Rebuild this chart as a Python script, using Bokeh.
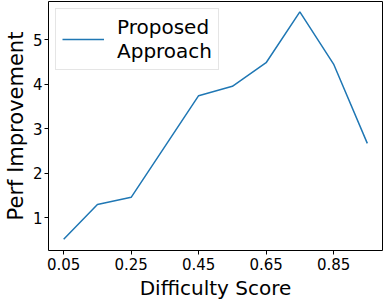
from bokeh.plotting import figure
from bokeh.models import Range1d, FixedTicker, NumeralTickFormatter
from bokeh.embed import file_html
from bokeh.resources import INLINE

difficulty = [0.05, 0.15, 0.25, 0.45, 0.55, 0.65, 0.75, 0.85, 0.95]
improvement = [0.52, 1.30, 1.46, 3.74, 3.95, 4.48, 5.62, 4.45, 2.67]
x_ticks = [0.05, 0.25, 0.45, 0.65, 0.85]
y_ticks = [1, 2, 3, 4, 5]
series_name = "Proposed\nApproach"

FONT = "DejaVu Sans"

p = figure(frame_width=334, frame_height=249, output_backend="svg", toolbar_location=None,
           x_range=Range1d(0.005, 0.995), y_range=Range1d(0.266, 5.854),
           min_border_left=0, min_border_right=1, min_border_top=1, min_border_bottom=0)

p.line(difficulty, improvement, color="#1f77b4", line_width=1.5, legend_label=series_name)

p.xgrid.visible = False
p.ygrid.visible = False
p.outline_line_color = "black"
p.outline_line_width = 1

p.xaxis.ticker = FixedTicker(ticks=x_ticks)
p.yaxis.ticker = FixedTicker(ticks=y_ticks)
p.xaxis.formatter = NumeralTickFormatter(format="0.00")

for ax in (p.xaxis[0], p.yaxis[0]):
    ax.major_label_text_font = FONT
    ax.major_label_text_font_size = "15px"
    ax.major_label_text_color = "black"
    ax.axis_label_text_font = FONT
    ax.axis_label_text_font_style = "normal"
    ax.axis_label_text_color = "black"
    ax.axis_line_color = None
    ax.major_tick_out = 4
    ax.major_tick_in = 0
    ax.major_tick_line_color = "black"
    ax.minor_tick_line_color = None
    ax.major_label_standoff = 3
    ax.axis_label_standoff = 3

p.xaxis.axis_label = "Difficulty Score"
p.yaxis.axis_label = "Perf Improvement"
p.xaxis.axis_label_text_font_size = "20px"
p.yaxis.axis_label_text_font_size = "21px"
p.yaxis.major_label_standoff = 2
p.yaxis.axis_label_standoff = 2

leg = p.legend[0]
leg.location = "top_left"
leg.margin = 7
leg.padding = 6
leg.label_text_font = FONT
leg.label_text_font_size = "20px"
leg.label_text_color = "black"
leg.glyph_width = 42
leg.label_standoff = 13
leg.border_line_color = "#cccccc"
leg.border_line_width = 1
leg.background_fill_alpha = 0.8

open("out.html", "w").write(file_html(p, INLINE))
